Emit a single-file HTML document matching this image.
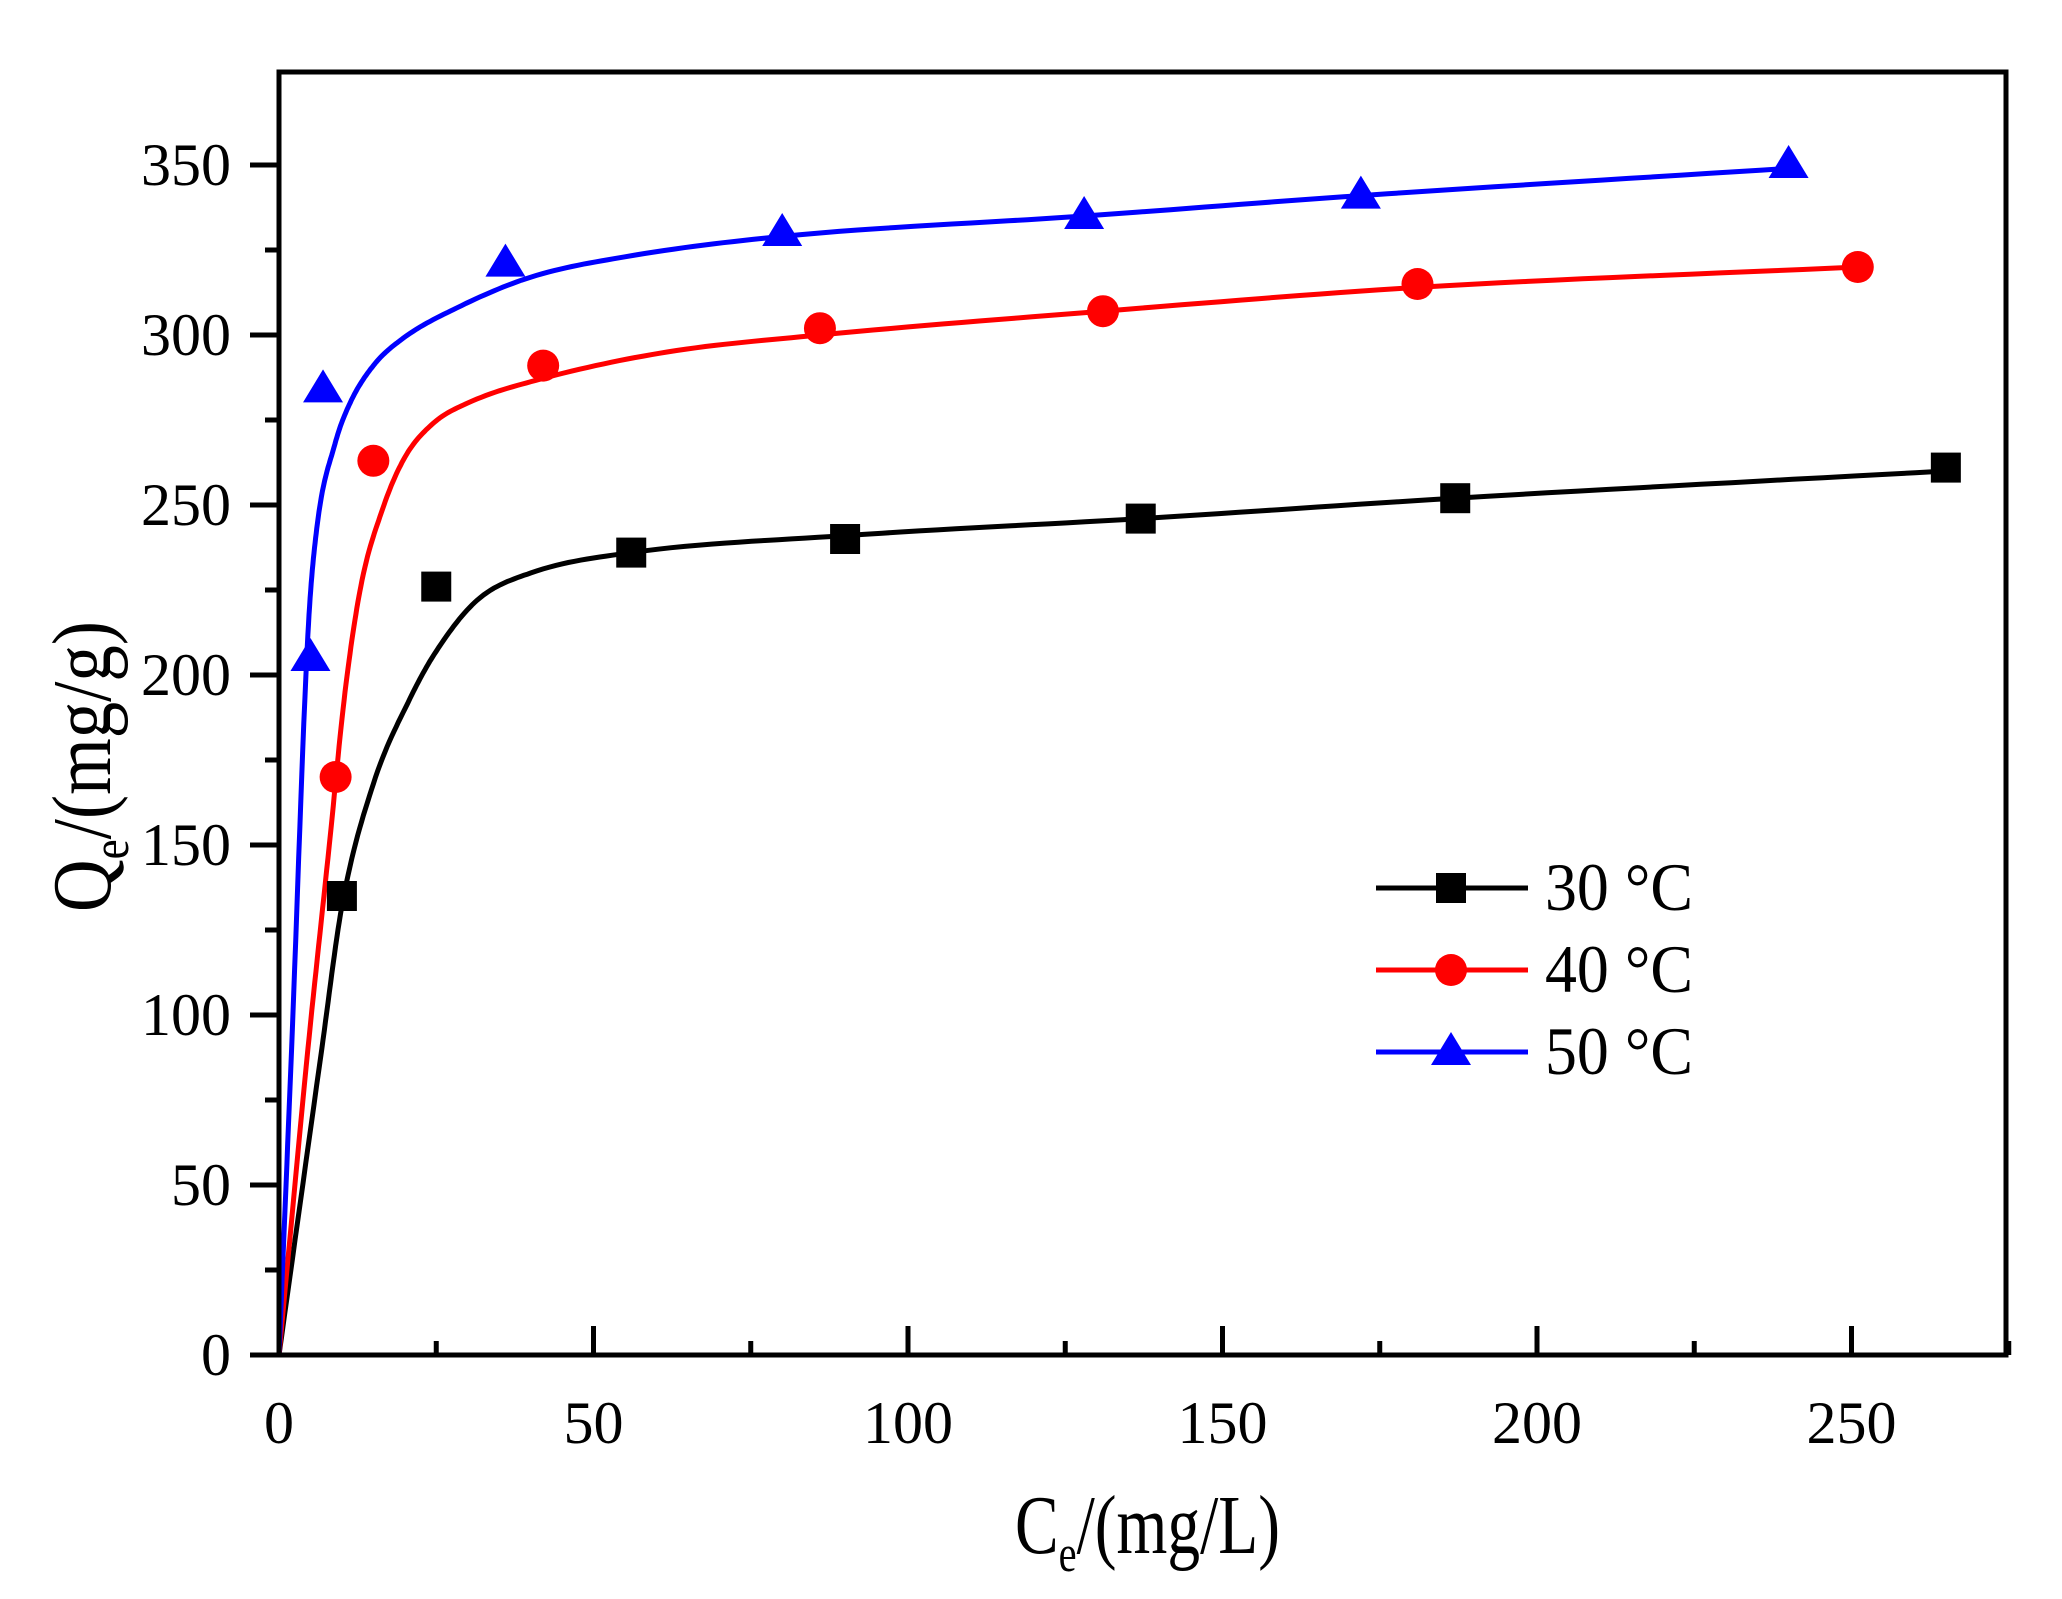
<!DOCTYPE html>
<html><head><meta charset="utf-8"><style>html,body{margin:0;padding:0;background:#fff}svg{display:block}</style></head>
<body>
<svg id="s" width="2062" height="1599" viewBox="0 0 2062 1599" xmlns="http://www.w3.org/2000/svg" font-family="'Liberation Serif', serif">
<rect width="2062" height="1599" fill="#fff"/>
<g id="ticks" stroke="#000" stroke-width="5"></g>
<g id="curves" fill="none" stroke-width="5"></g>
<g id="marks"></g>
<rect x="279" y="72" width="1727" height="1283" fill="none" stroke="#000" stroke-width="5"/>
<g id="labels" font-size="60" fill="#000"></g>
<text x="1015" y="1553" font-size="84" textLength="265" lengthAdjust="spacingAndGlyphs">C<tspan font-size="52" dy="18">e</tspan><tspan dy="-18">/(mg/L)</tspan></text>
<text transform="translate(110,912) rotate(-90)" font-size="84" textLength="291" lengthAdjust="spacingAndGlyphs">Q<tspan font-size="52" dy="18">e</tspan><tspan dy="-18">/(mg/g)</tspan></text>
<g id="legend"></g>
</svg>
<script>
var NS="http://www.w3.org/2000/svg";
var x0=279,sx=6.29,y0=1355,sy=3.40;
function X(c){return x0+c*sx}function Y(q){return y0-q*sy}
function el(p,t,a){var e=document.createElementNS(NS,t);for(var k in a)e.setAttribute(k,a[k]);p.appendChild(e);return e}
var T=document.getElementById('ticks'),L=document.getElementById('labels');
for(var q=0;q<=350;q+=25){var y=Y(q),maj=q%50==0;el(T,'line',{x1:maj?250:265,x2:279,y1:y,y2:y});
 if(maj){var t=el(L,'text',{x:231,y:y+20,'text-anchor':'end'});t.textContent=q;}}
for(var c=0;c<=275;c+=25){var x=X(c),maj=c%50==0;el(T,'line',{x1:x,x2:x,y1:1355,y2:maj?1326:1341});
 if(maj){var t=el(L,'text',{x:x,y:1443,'text-anchor':'middle'});t.textContent=c;}}
function mono(P){var n=P.length,d=[],m=[];for(var i=0;i<n-1;i++)d.push((P[i+1][1]-P[i][1])/(P[i+1][0]-P[i][0]));
 m[0]=d[0];m[n-1]=d[n-2];for(var i=1;i<n-1;i++){m[i]=(d[i-1]*d[i]<=0)?0:(d[i-1]+d[i])/2;var a=m[i]/d[i-1],b=m[i]/d[i];if(a>3)m[i]=3*d[i-1];if(b>3)m[i]=3*d[i];}
 var s='M'+X(P[0][0])+','+Y(P[0][1]);
 for(var i=0;i<n-1;i++){var h=P[i+1][0]-P[i][0];for(var k=1;k<=16;k++){var t=k/16,t2=t*t,t3=t2*t;
  var v=(2*t3-3*t2+1)*P[i][1]+(t3-2*t2+t)*h*m[i]+(-2*t3+3*t2)*P[i+1][1]+(t3-t2)*h*m[i+1];
  s+=' L'+X(P[i][0]+t*h).toFixed(1)+','+Y(v).toFixed(1);}}
 return s;}
var C=document.getElementById('curves');
el(C,'path',{stroke:'#000',d:mono([[0,0],[6.8,90],[10,132],[15,168],[20.8,193],[25,207],[31.5,222],[40,230],[56,236],[90,241],[137,246],[187,252],[265,260]])});
el(C,'path',{stroke:'#f00',d:mono([[0,0],[4.6,90],[8,150],[10.5,195],[13,226],[16.5,249],[20,264],[24.5,274],[30,280],[41.5,287],[61.7,295],[86,300],[131,307],[181,314],[251,320]])});
el(C,'path',{stroke:'#00f',d:mono([[0,0],[2,90],[4.6,212],[6,243],[8.9,268],[11.3,280],[15,291],[19.7,299],[28.3,308],[40,317],[55,323],[80,329],[128,335],[172,341],[240,349]])});
var M=document.getElementById('marks');
function sq(x,y){el(M,'rect',{x:x-15,y:y-15,width:30,height:30,fill:'#000'})}
function ci(x,y){el(M,'circle',{cx:x,cy:y,r:16,fill:'#f00'})}
function tr(x,y){el(M,'polygon',{points:(x)+','+(y-20)+' '+(x-20)+','+(y+13)+' '+(x+20)+','+(y+13),fill:'#00f'})}
[[10,135],[25,226],[56,236],[90,240],[137,246],[187,252],[265,261]].forEach(function(p){sq(X(p[0]),Y(p[1]))});
[[9,170],[15,263],[42,291],[86,302],[131,307],[181,315],[251,320]].forEach(function(p){ci(X(p[0]),Y(p[1]))});
[[5,205],[7,284],[36,321],[80,330],[128,335],[172,341],[240,350]].forEach(function(p){tr(X(p[0]),Y(p[1]))});
var G=document.getElementById('legend');
var cols=['#000','#f00','#00f'],names=['30 °C','40 °C','50 °C'],ys=[888,970,1052];
for(var i=0;i<3;i++){el(G,'line',{x1:1376,x2:1528,y1:ys[i],y2:ys[i],stroke:cols[i],'stroke-width':5});
 var sv=M;M=G;[sq,ci,tr][i](1451,ys[i]);M=sv;
 var t=el(G,'text',{x:1545,y:ys[i]+22,'font-size':68,textLength:148,lengthAdjust:'spacingAndGlyphs'});t.textContent=names[i];}
</script>
</body></html>
